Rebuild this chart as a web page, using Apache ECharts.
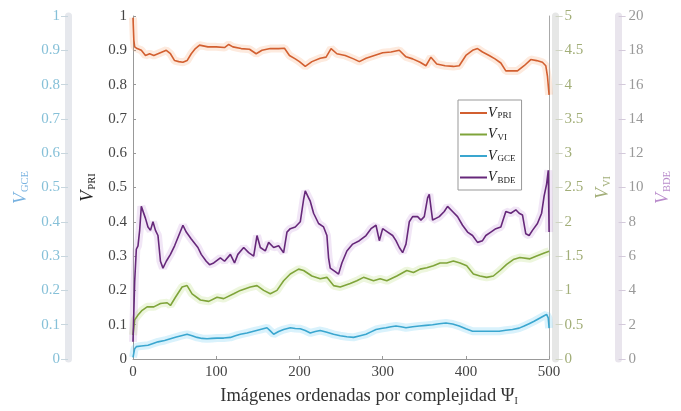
<!DOCTYPE html>
<html><head><meta charset="utf-8">
<script src="https://cdn.jsdelivr.net/npm/echarts@6/dist/echarts.min.js"></script>
<style>html,body{margin:0;padding:0;background:#fff}#c{width:681px;height:411px}</style>
</head><body><div id="c"></div>
<script>
// ---- data ----
const xTicks = [0, 100, 200, 300, 400, 500];
const seriesNames = ['PRI', 'VI', 'GCE', 'BDE'];
const xTitle = 'Imágenes ordenadas por complejidad ';

// V_PRI (left inner axis, 0-1)
const priData = [[0,0.995],[1,0.93],[2,0.91],[5,0.905],[10,0.9],[15,0.885],[20,0.89],[25,0.885],[30,0.89],[35,0.895],[40,0.9],[45,0.89],[50,0.87],[55,0.867],[60,0.865],[65,0.87],[70,0.89],[75,0.905],[80,0.915],[90,0.91],[100,0.91],[110,0.908],[115,0.917],[120,0.91],[130,0.905],[140,0.903],[148,0.89],[155,0.9],[165,0.905],[175,0.905],[182,0.906],[188,0.885],[195,0.875],[200,0.867],[207,0.853],[215,0.867],[225,0.877],[232,0.88],[238,0.905],[245,0.89],[255,0.885],[265,0.875],[272,0.867],[280,0.877],[290,0.885],[300,0.893],[310,0.895],[320,0.9],[328,0.881],[336,0.875],[345,0.865],[352,0.855],[358,0.88],[365,0.86],[375,0.855],[385,0.853],[392,0.855],[400,0.885],[408,0.9],[414,0.905],[420,0.895],[428,0.885],[435,0.875],[442,0.863],[448,0.84],[455,0.84],[462,0.84],[470,0.855],[478,0.873],[485,0.87],[492,0.865],[496,0.855],[498,0.825],[500,0.77]];

// V_VI (right inner axis, 0-5)
const viData = [[0,0.35],[2,0.57],[6,0.64],[11,0.71],[17,0.76],[25,0.76],[33,0.81],[41,0.82],[45,0.78],[51,0.9],[59,1.05],[65,1.07],[71,0.95],[81,0.86],[91,0.84],[101,0.9],[109,0.88],[121,0.95],[129,1.0],[141,1.05],[149,1.07],[157,1.0],[165,0.95],[173,1.0],[181,1.14],[189,1.24],[199,1.31],[205,1.29],[215,1.21],[225,1.17],[233,1.19],[241,1.07],[249,1.05],[261,1.1],[269,1.14],[277,1.19],[289,1.14],[297,1.17],[305,1.14],[317,1.21],[329,1.29],[337,1.26],[345,1.31],[353,1.33],[361,1.36],[369,1.4],[377,1.4],[385,1.43],[393,1.4],[401,1.36],[409,1.24],[417,1.21],[425,1.19],[433,1.21],[441,1.29],[449,1.38],[457,1.45],[465,1.48],[477,1.46],[485,1.5],[495,1.55],[500,1.57]];

// V_GCE (left outer axis, 0-1)
const gceData = [[0,0.005],[2,0.03],[4,0.036],[10,0.038],[18,0.04],[25,0.046],[30,0.05],[38,0.054],[45,0.059],[52,0.064],[58,0.068],[65,0.072],[71,0.068],[77,0.063],[83,0.06],[89,0.059],[95,0.06],[101,0.061],[109,0.061],[117,0.063],[123,0.068],[129,0.072],[137,0.076],[145,0.081],[153,0.086],[161,0.091],[165,0.082],[169,0.072],[175,0.08],[181,0.086],[189,0.091],[195,0.089],[201,0.088],[207,0.083],[213,0.076],[219,0.08],[225,0.083],[233,0.078],[241,0.072],[249,0.068],[257,0.065],[265,0.063],[273,0.068],[280,0.072],[286,0.079],[292,0.086],[298,0.089],[304,0.091],[310,0.094],[316,0.096],[322,0.094],[328,0.091],[336,0.094],[344,0.096],[352,0.098],[360,0.1],[368,0.103],[376,0.105],[384,0.102],[392,0.096],[400,0.088],[408,0.081],[416,0.081],[424,0.081],[432,0.081],[440,0.081],[448,0.084],[456,0.086],[464,0.09],[470,0.096],[476,0.103],[482,0.11],[488,0.118],[494,0.126],[497,0.13],[499,0.12],[500,0.09]];

// V_BDE (right outer axis, 0-20)
const bdeData = [[0,1.0],[2,4.5],[4,6.4],[6,6.6],[8,7.5],[10,8.9],[12,8.8],[15,8.2],[18,7.7],[21,7.5],[24,8.0],[27,7.5],[30,7.2],[33,5.7],[36,5.3],[40,5.7],[45,6.1],[50,6.6],[55,7.2],[60,7.8],[64,7.4],[70,7.0],[78,6.5],[82,6.1],[88,5.7],[92,5.5],[97,5.6],[105,5.9],[110,5.7],[117,6.1],[122,5.6],[126,6.1],[133,6.5],[139,6.2],[145,6.0],[149,7.2],[153,6.5],[159,6.3],[163,6.8],[169,6.5],[175,6.6],[181,6.2],[185,7.4],[189,7.6],[195,7.7],[201,8.0],[205,9.3],[207,9.8],[211,9.4],[213,9.2],[217,8.5],[223,7.9],[229,7.7],[233,7.2],[235,5.9],[237,5.3],[243,5.1],[247,4.95],[251,5.6],[257,6.3],[264,6.7],[272,6.9],[280,7.2],[286,7.6],[292,7.8],[296,6.9],[300,7.6],[306,7.4],[312,7.2],[316,6.9],[320,6.5],[324,6.2],[328,6.7],[332,8.0],[336,8.3],[342,8.3],[346,8.1],[350,8.3],[354,9.4],[356,9.6],[360,8.1],[364,8.2],[368,8.3],[374,8.6],[378,8.9],[384,8.6],[390,8.3],[396,7.8],[402,7.4],[408,7.2],[414,6.8],[420,6.9],[424,7.2],[430,7.4],[436,7.6],[442,7.7],[448,8.6],[454,8.5],[460,8.7],[464,8.5],[468,8.4],[472,7.3],[476,7.2],[480,7.5],[486,7.9],[491,8.5],[494,9.5],[497,10.2],[499,11.0],[500,7.4]];

// ---- chart ----
const serif = '"Liberation Serif", "Times New Roman", serif';
const chart = echarts.init(document.getElementById('c'), null, {renderer: 'canvas'});
function nameRich(color, vs, ss) {
  return {
    v: {fontFamily: serif, fontStyle: 'italic', fontSize: vs, color: color},
    s: {fontFamily: serif, fontSize: ss, color: color, padding: [Math.round(vs*0.45), 0, 0, 1]}
  };
}
const lab = (s) => '{v|V}{s|' + s + '}';

const cfg = {
  PRI: {color: '#d25f30', halo: 'rgba(245,150,90,0.20)', axis: 0, data: priData},
  VI:  {color: '#7fa43a', halo: 'rgba(175,215,100,0.22)', axis: 2, data: viData},
  GCE: {color: '#3aa6cf', halo: 'rgba(120,210,245,0.28)', axis: 1, data: gceData},
  BDE: {color: '#66287a', halo: 'rgba(190,140,215,0.22)', axis: 3, data: bdeData}
};

const series = [];
seriesNames.forEach(n => {
  const c = cfg[n];
  series.push({name: n + '_halo', type: 'line', yAxisIndex: c.axis, data: c.data, symbol: 'none',
    silent: true, z: 1, lineStyle: {color: c.halo, width: 8}});
});
seriesNames.forEach(n => {
  const c = cfg[n];
  series.push({name: n, type: 'line', yAxisIndex: c.axis, data: c.data, symbol: 'none',
    z: 3, color: c.color, lineStyle: {color: c.color, width: 1.6}});
});

const tickStyle = (col) => ({show: true, inside: false, length: 7, lineStyle: {color: col, width: 1}});
const FS = 15;

chart.setOption({
  animation: false,
  backgroundColor: '#fff',
  grid: {left: 133, right: 129, top: 16, bottom: 45, containLabel: false},
  legend: {
    data: seriesNames, orient: 'vertical', left: 458, top: 100,
    itemWidth: 27, itemHeight: 2, itemGap: 7, icon: 'rect',
    backgroundColor: '#fff', borderColor: '#999', borderWidth: 1, padding: [6, 6, 5, 2],
    formatter: n => lab(n),
    textStyle: {rich: nameRich('#222', 14, 9), padding: [0, 0, 0, -4]}
  },
  xAxis: {
    type: 'value', min: xTicks[0], max: xTicks[xTicks.length - 1], interval: 100,
    axisLine: {show: true, lineStyle: {color: '#999', width: 1}},
    axisTick: {show: true, inside: true, length: 3, lineStyle: {color: '#999'}},
    splitLine: {show: false},
    axisLabel: {color: '#444', fontFamily: serif, fontSize: FS, margin: 6},
    name: xTitle + '{p|Ψ}{s|I}', nameLocation: 'middle', nameGap: 28,
    nameTextStyle: {color: '#333', fontFamily: serif, fontSize: 18.5, padding: [0, 0, 0, 56],
      rich: {p: {fontFamily: serif, fontSize: 18.5, color: '#333'}, s: {fontFamily: serif, fontSize: 10, color: '#333', padding: [9, 0, 0, 0]}}}
  },
  yAxis: [
    { // 0: PRI
      type: 'value', position: 'left', offset: 0, min: 0, max: 1, interval: 0.1,
      axisLine: {show: true, lineStyle: {color: '#999', width: 1}},
      axisTick: {show: true, inside: true, length: 3, lineStyle: {color: '#999'}},
      splitLine: {show: false},
      axisLabel: {color: '#444', fontFamily: serif, fontSize: FS, margin: 6},
      name: lab('PRI'), nameLocation: 'middle', nameGap: 35.5, nameRotate: 90,
      nameTextStyle: {rich: nameRich('#222', 18, 10.5)}
    },
    { // 1: GCE
      type: 'value', position: 'left', offset: 65, min: 0, max: 1, interval: 0.1,
      axisLine: {show: true, lineStyle: {color: '#e6e8ed', width: 7}},
      axisTick: tickStyle('#c8d6de'),
      splitLine: {show: false},
      axisLabel: {color: '#86c0d8', fontFamily: serif, fontSize: FS, margin: 8},
      name: lab('GCE'), nameLocation: 'middle', nameGap: 34, nameRotate: 90,
      nameTextStyle: {rich: nameRich('#78b2e0', 18, 10.5)}
    },
    { // 2: VI
      type: 'value', position: 'right', offset: 6.5, min: 0, max: 5, interval: 0.5,
      axisLine: {show: true, lineStyle: {color: '#e6e7e6', width: 7}},
      axisTick: tickStyle('#cfd4c2'),
      splitLine: {show: false},
      axisLabel: {color: '#a2ae78', fontFamily: serif, fontSize: FS, margin: 9},
      name: lab('VI'), nameLocation: 'middle', nameGap: 29, nameRotate: 90,
      nameTextStyle: {rich: nameRich('#a2ae78', 18, 10.5)}
    },
    { // 3: BDE
      type: 'value', position: 'right', offset: 69.5, min: 0, max: 20, interval: 2,
      axisLine: {show: true, lineStyle: {color: '#e9e5ed', width: 7}},
      axisTick: tickStyle('#d4cadb'),
      splitLine: {show: false},
      axisLabel: {color: '#999', fontFamily: serif, fontSize: FS, margin: 10},
      name: lab('BDE'), nameLocation: 'middle', nameGap: 26, nameRotate: 90,
      nameTextStyle: {rich: nameRich('#b98bcb', 18, 10.5)}
    },
    { // 4: right frame line
      type: 'value', position: 'right', offset: 0, min: 0, max: 1,
      axisLine: {show: true, lineStyle: {color: '#aaa', width: 1}},
      axisTick: {show: false}, axisLabel: {show: false}, splitLine: {show: false}
    }
  ],
  series: series
});
</script>
</body></html>
